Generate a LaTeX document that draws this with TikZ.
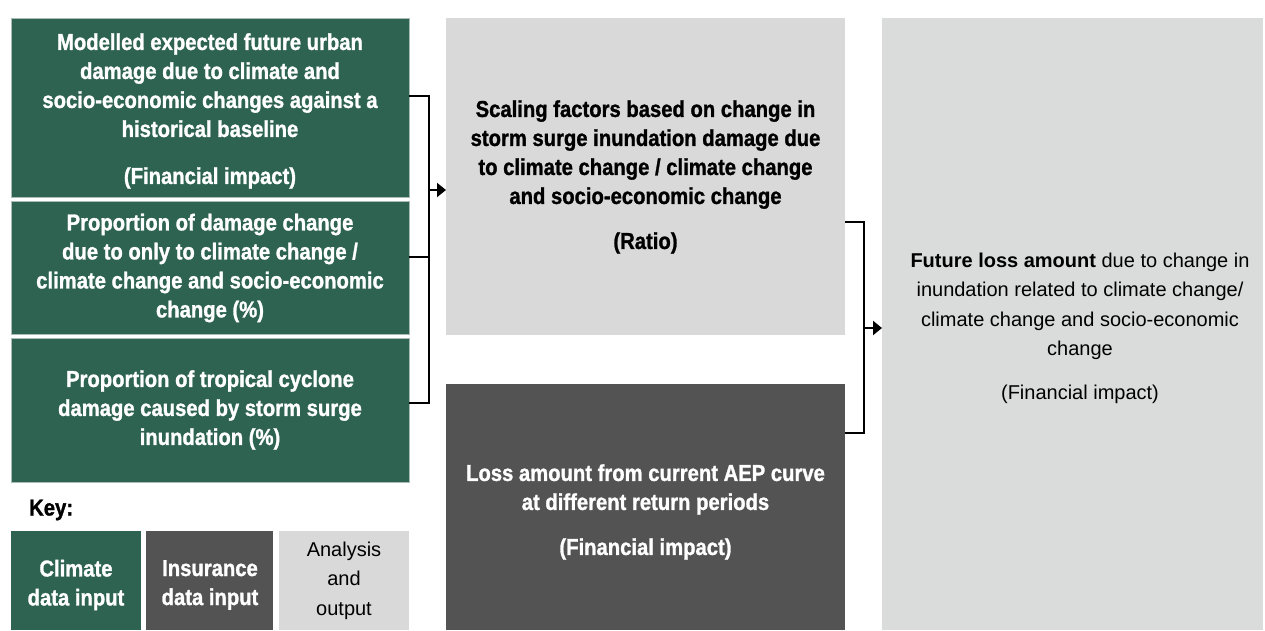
\documentclass[tikz,border=0pt]{standalone}
\usepackage{fontspec}
\setmainfont{Liberation Sans}
\newfontfamily\cond[FakeStretch=0.88,FakeBold=1.2]{Liberation Sans}
\usetikzlibrary{arrows.meta}
\definecolor{cgreen}{HTML}{2D6350}
\definecolor{cdark}{HTML}{535353}
\definecolor{clight}{HTML}{D9D9D9}
\definecolor{cright}{HTML}{DADCDB}
\definecolor{cedge}{HTML}{A9BDB5}
\tikzset{
  box/.style={rectangle, inner sep=0pt, outer sep=0pt, anchor=north west},
  gbox/.style={box, fill=cgreen, draw=cedge, line width=0.8pt},
  dbox/.style={box, fill=cdark},
  lbox/.style={box, fill=clight},
  rbox/.style={box, fill=cright},
  btxt/.style={align=center, inner sep=0pt, font=\cond\bfseries\fontsize{23}{29}\selectfont},
  wtxt/.style={btxt, text=white},
  rtxt/.style={align=center, inner sep=0pt, font=\fontsize{20}{29.5}\selectfont},
  conn/.style={line width=2pt, line join=miter},
  arr/.style={line width=2pt, -{Triangle[length=9pt,width=14pt]}},
}
\begin{document}
\begin{tikzpicture}[x=1pt,y=-1pt]
\useasboundingbox (0,0) rectangle (1265,630);
% left climate boxes
\node[gbox, minimum width=398pt, minimum height=179pt] (b1) at (11,18) {};
\node[gbox, minimum width=398pt, minimum height=133pt] (b2) at (11,201) {};
\node[gbox, minimum width=398pt, minimum height=144pt] (b3) at (11,338) {};
\node[wtxt] (t1) at (210,111) {Modelled expected future urban\\ damage due to climate and\\ socio-economic changes against a\\ historical baseline\\[18pt] (Financial impact)};
\node[wtxt] (t2) at (210,268) {Proportion of damage change\\ due to only to climate change /\\ climate change and socio-economic\\ change (\%)};
\node[wtxt] (t3) at (210,410) {Proportion of tropical cyclone\\ damage caused by storm surge\\ inundation (\%)};
% middle boxes
\node[lbox, minimum width=399pt, minimum height=317pt] (m1) at (446,18) {};
\node[dbox, minimum width=399pt, minimum height=246pt] (m2) at (446,384) {};
\node[btxt] (tm1) at (645.5,177) {Scaling factors based on change in\\ storm surge inundation damage due\\ to climate change / climate change\\ and socio-economic change\\[16pt] (Ratio)};
\node[wtxt] (tm2) at (645.5,512) {Loss amount from current AEP curve\\ at different return periods\\[16pt] (Financial impact)};
% right box
\node[rbox, minimum width=381pt, minimum height=612pt] (r) at (882,18) {};
\node[rtxt] (tr) at (1080,328) {\textbf{Future loss amount} due to change in\\ inundation related to climate change/\\ climate change and socio-economic\\ change\\[14pt] (Financial impact)};
% key
\node[btxt, anchor=west] (key) at (29,510) {Key:};
\node[gbox, draw=none, minimum width=130pt, minimum height=99pt] (k1) at (11,531) {};
\node[dbox, minimum width=127pt, minimum height=99pt] (k2) at (146,531) {};
\node[lbox, minimum width=130pt, minimum height=99pt] (k3) at (279,531) {};
\node[wtxt] at (76,585) (tk1) {Climate\\ data input};
\node[wtxt] at (210,585) (tk2) {Insurance\\ data input};
\node[rtxt] at (k3.center) (tk3) {Analysis\\ and\\ output};
% left bracket
\coordinate (jt) at (429,96);
\coordinate (jm) at (429,257);
\coordinate (jb) at (429,403);
\coordinate (ja) at (429,190);
\draw[conn] (b1.east |- jt) -- (jt) -- (jb) -- (b3.east |- jb);
\draw[conn] (b2.east |- jm) -- (jm);
\draw[arr] (ja) -- (m1.west |- ja);
% right bracket
\coordinate (rt) at (864,222);
\coordinate (rb) at (864,433);
\coordinate (ra) at (864,328);
\draw[conn] (m1.east |- rt) -- (rt) -- (rb) -- (m2.east |- rb);
\draw[arr] (ra) -- (r.west |- ra);
\end{tikzpicture}
\end{document}
